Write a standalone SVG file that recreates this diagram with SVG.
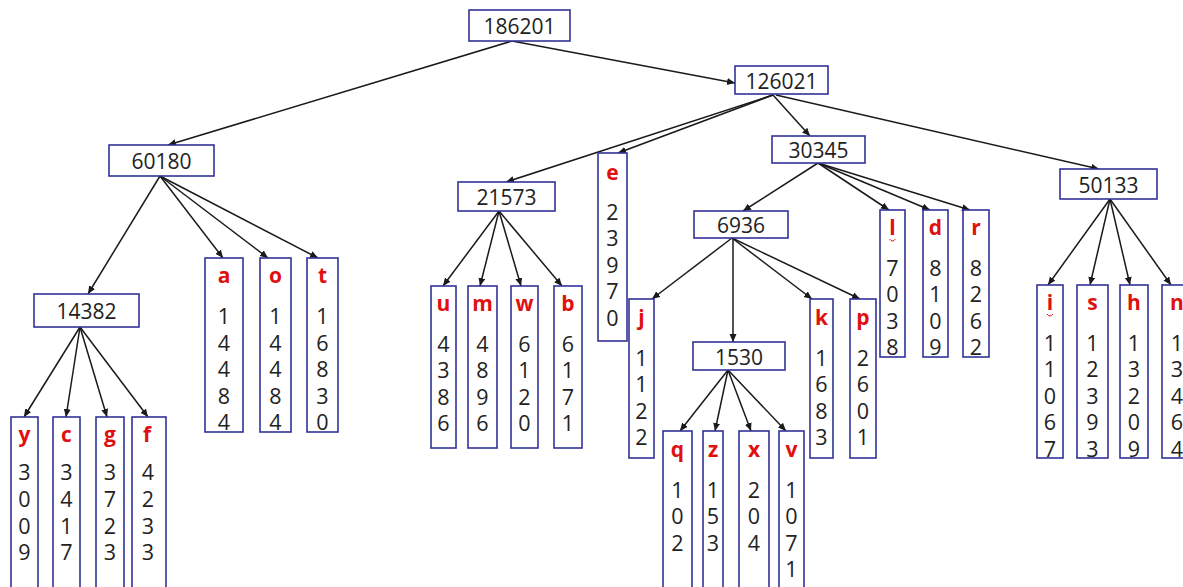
<svg xmlns="http://www.w3.org/2000/svg" width="1183" height="587" viewBox="0 0 1183 587">
<style>
.bx{fill:#fff;stroke:#32329a;stroke-width:1.6}
.nt{font-family:"Open Sans","Liberation Sans",sans-serif;font-size:21px;fill:#222;text-anchor:middle}
.lt{font-family:"Open Sans","Liberation Sans",sans-serif;font-size:21px;font-weight:bold;fill:#e01010;text-anchor:middle}
.dg{font-family:"Open Sans","Liberation Sans",sans-serif;font-size:21.5px;fill:#222;text-anchor:middle}
.cn{stroke:#1a1a1a;stroke-width:1.5;fill:none;marker-end:url(#ah)}
.sq{stroke:#e01010;stroke-width:1;fill:none}
</style>
<defs>
<marker id="ah" markerUnits="userSpaceOnUse" markerWidth="9" markerHeight="8" refX="8" refY="3.5" orient="auto">
<path d="M0,0 L8,3.5 L0,7 z" fill="#1a1a1a"/>
</marker>
</defs>
<rect width="1183" height="587" fill="#fff"/>
<g id="connectors">
<line class="cn" x1="512" y1="41" x2="168" y2="145"/>
<line class="cn" x1="512" y1="41" x2="735" y2="83"/>
<line class="cn" x1="773" y1="95" x2="506" y2="182"/>
<line class="cn" x1="773" y1="95" x2="618" y2="153"/>
<line class="cn" x1="773" y1="95" x2="810" y2="136"/>
<line class="cn" x1="776" y1="95" x2="1099" y2="169"/>
<line class="cn" x1="160" y1="176" x2="88" y2="294"/>
<line class="cn" x1="160" y1="176" x2="223" y2="258"/>
<line class="cn" x1="160" y1="176" x2="268" y2="258"/>
<line class="cn" x1="160" y1="176" x2="318" y2="258"/>
<line class="cn" x1="80" y1="327" x2="24" y2="417"/>
<line class="cn" x1="80" y1="327" x2="66" y2="417"/>
<line class="cn" x1="80" y1="327" x2="107" y2="417"/>
<line class="cn" x1="80" y1="327" x2="148" y2="417"/>
<line class="cn" x1="499" y1="211" x2="443" y2="286"/>
<line class="cn" x1="499" y1="211" x2="480" y2="286"/>
<line class="cn" x1="499" y1="211" x2="521" y2="286"/>
<line class="cn" x1="499" y1="211" x2="562" y2="286"/>
<line class="cn" x1="818" y1="163" x2="743" y2="211"/>
<line class="cn" x1="818" y1="163" x2="889" y2="210"/>
<line class="cn" x1="818" y1="163" x2="930" y2="210"/>
<line class="cn" x1="818" y1="163" x2="970" y2="210"/>
<line class="cn" x1="732" y1="238" x2="652" y2="299"/>
<line class="cn" x1="733" y1="238" x2="733" y2="342"/>
<line class="cn" x1="732" y1="238" x2="812" y2="299"/>
<line class="cn" x1="732" y1="238" x2="860" y2="299"/>
<line class="cn" x1="728" y1="370" x2="680" y2="431"/>
<line class="cn" x1="728" y1="370" x2="715" y2="431"/>
<line class="cn" x1="728" y1="370" x2="751" y2="431"/>
<line class="cn" x1="728" y1="370" x2="786" y2="431"/>
<line class="cn" x1="1110" y1="199" x2="1048" y2="285"/>
<line class="cn" x1="1110" y1="199" x2="1090" y2="285"/>
<line class="cn" x1="1110" y1="199" x2="1130" y2="285"/>
<line class="cn" x1="1110" y1="199" x2="1171" y2="285"/>
</g>
<g id="n186201"><rect class="bx" x="469" y="10" width="101" height="31"/><text class="nt" x="519.5" y="34">186201</text></g>
<g id="n126021"><rect class="bx" x="735" y="66" width="93" height="28"/><text class="nt" x="781.5" y="88.5">126021</text></g>
<g id="n60180"><rect class="bx" x="109" y="145" width="105" height="31"/><text class="nt" x="161.5" y="169">60180</text></g>
<g id="n30345"><rect class="bx" x="772" y="136" width="93" height="27"/><text class="nt" x="818.5" y="158">30345</text></g>
<g id="n21573"><rect class="bx" x="458" y="182" width="97" height="29"/><text class="nt" x="506.5" y="205">21573</text></g>
<g id="n50133"><rect class="bx" x="1060" y="169" width="97" height="30"/><text class="nt" x="1108.5" y="192.5">50133</text></g>
<g id="n6936"><rect class="bx" x="694" y="211" width="94" height="27"/><text class="nt" x="741" y="233">6936</text></g>
<g id="n14382"><rect class="bx" x="34" y="294" width="105" height="33"/><text class="nt" x="86.5" y="319">14382</text></g>
<g id="n1530"><rect class="bx" x="693" y="342" width="92" height="28"/><text class="nt" x="739" y="365">1530</text></g>
<g id="leaf-y"><rect class="bx" x="11" y="417" width="27" height="180"/><text class="lt" x="24.5" y="442">y</text><text class="dg"><tspan x="24.5" y="480">3</tspan><tspan x="24.5" y="507">0</tspan><tspan x="24.5" y="533.5">0</tspan><tspan x="24.5" y="560">9</tspan></text></g>
<g id="leaf-c"><rect class="bx" x="53" y="417" width="27" height="180"/><text class="lt" x="66.5" y="442">c</text><text class="dg"><tspan x="66.5" y="480">3</tspan><tspan x="66.5" y="507">4</tspan><tspan x="66.5" y="533.5">1</tspan><tspan x="66.5" y="560">7</tspan></text></g>
<g id="leaf-g"><rect class="bx" x="96" y="417" width="28" height="180"/><text class="lt" x="110" y="442">g</text><text class="dg"><tspan x="110" y="480">3</tspan><tspan x="110" y="507">7</tspan><tspan x="110" y="533.5">2</tspan><tspan x="110" y="560">3</tspan></text></g>
<g id="leaf-f"><rect class="bx" x="132" y="417" width="34" height="180"/><text class="lt" x="147" y="442">f</text><text class="dg"><tspan x="148" y="480">4</tspan><tspan x="148" y="507">2</tspan><tspan x="148" y="533.5">3</tspan><tspan x="148" y="560">3</tspan></text></g>
<g id="leaf-a"><rect class="bx" x="205" y="258" width="38" height="174"/><text class="lt" x="224" y="283">a</text><text class="dg"><tspan x="224" y="324">1</tspan><tspan x="224" y="350.5">4</tspan><tspan x="224" y="377">4</tspan><tspan x="224" y="403.5">8</tspan><tspan x="224" y="430">4</tspan></text></g>
<g id="leaf-o"><rect class="bx" x="260" y="258" width="31" height="174"/><text class="lt" x="275.5" y="283">o</text><text class="dg"><tspan x="275.5" y="324">1</tspan><tspan x="275.5" y="350.5">4</tspan><tspan x="275.5" y="377">4</tspan><tspan x="275.5" y="403.5">8</tspan><tspan x="275.5" y="430">4</tspan></text></g>
<g id="leaf-t"><rect class="bx" x="307" y="258" width="31" height="174"/><text class="lt" x="322.5" y="283">t</text><text class="dg"><tspan x="322.5" y="324">1</tspan><tspan x="322.5" y="350.5">6</tspan><tspan x="322.5" y="377">8</tspan><tspan x="322.5" y="403.5">3</tspan><tspan x="322.5" y="430">0</tspan></text></g>
<g id="leaf-u"><rect class="bx" x="431" y="286" width="25" height="162"/><text class="lt" x="443.5" y="311">u</text><text class="dg"><tspan x="443.5" y="351.5">4</tspan><tspan x="443.5" y="378">3</tspan><tspan x="443.5" y="404.5">8</tspan><tspan x="443.5" y="431">6</tspan></text></g>
<g id="leaf-m"><rect class="bx" x="468" y="286" width="29" height="162"/><text class="lt" x="482.5" y="311">m</text><text class="dg"><tspan x="482.5" y="351.5">4</tspan><tspan x="482.5" y="378">8</tspan><tspan x="482.5" y="404.5">9</tspan><tspan x="482.5" y="431">6</tspan></text></g>
<g id="leaf-w"><rect class="bx" x="511" y="286" width="27" height="162"/><text class="lt" x="524.5" y="311">w</text><text class="dg"><tspan x="524.5" y="351.5">6</tspan><tspan x="524.5" y="378">1</tspan><tspan x="524.5" y="404.5">2</tspan><tspan x="524.5" y="431">0</tspan></text></g>
<g id="leaf-b"><rect class="bx" x="554" y="286" width="28" height="162"/><text class="lt" x="568" y="311">b</text><text class="dg"><tspan x="568" y="351.5">6</tspan><tspan x="568" y="378">1</tspan><tspan x="568" y="404.5">7</tspan><tspan x="568" y="431">1</tspan></text></g>
<g id="leaf-e"><rect class="bx" x="598" y="153" width="29" height="188"/><text class="lt" x="612.5" y="180">e</text><text class="dg"><tspan x="612.5" y="219.5">2</tspan><tspan x="612.5" y="246">3</tspan><tspan x="612.5" y="272.5">9</tspan><tspan x="612.5" y="299">7</tspan><tspan x="612.5" y="325.5">0</tspan></text></g>
<g id="leaf-j"><rect class="bx" x="629" y="299" width="25" height="159"/><text class="lt" x="641.5" y="325">j</text><text class="dg"><tspan x="641.5" y="365.5">1</tspan><tspan x="641.5" y="392">1</tspan><tspan x="641.5" y="418.5">2</tspan><tspan x="641.5" y="445">2</tspan></text></g>
<g id="leaf-k"><rect class="bx" x="810" y="299" width="23" height="159"/><text class="lt" x="821.5" y="325">k</text><text class="dg"><tspan x="821.5" y="365.5">1</tspan><tspan x="821.5" y="392">6</tspan><tspan x="821.5" y="418.5">8</tspan><tspan x="821.5" y="445">3</tspan></text></g>
<g id="leaf-p"><rect class="bx" x="850" y="299" width="26" height="159"/><text class="lt" x="863" y="325">p</text><text class="dg"><tspan x="863" y="365.5">2</tspan><tspan x="863" y="392">6</tspan><tspan x="863" y="418.5">0</tspan><tspan x="863" y="445">1</tspan></text></g>
<g id="leaf-q"><rect class="bx" x="663" y="431" width="29" height="165"/><text class="lt" x="677.5" y="457">q</text><text class="dg"><tspan x="677.5" y="497.5">1</tspan><tspan x="677.5" y="524">0</tspan><tspan x="677.5" y="550.5">2</tspan></text></g>
<g id="leaf-z"><rect class="bx" x="703" y="431" width="20" height="165"/><text class="lt" x="713" y="457">z</text><text class="dg"><tspan x="713" y="497.5">1</tspan><tspan x="713" y="524">5</tspan><tspan x="713" y="550.5">3</tspan></text></g>
<g id="leaf-x"><rect class="bx" x="739" y="431" width="30" height="165"/><text class="lt" x="754" y="457">x</text><text class="dg"><tspan x="754" y="497.5">2</tspan><tspan x="754" y="524">0</tspan><tspan x="754" y="550.5">4</tspan></text></g>
<g id="leaf-v"><rect class="bx" x="779" y="431" width="25" height="165"/><text class="lt" x="791.5" y="457">v</text><text class="dg"><tspan x="791.5" y="497.5">1</tspan><tspan x="791.5" y="524">0</tspan><tspan x="791.5" y="550.5">7</tspan><tspan x="791.5" y="577">1</tspan></text></g>
<g id="leaf-l"><rect class="bx" x="880" y="210" width="25" height="147"/><text class="lt" x="892.5" y="235">l</text><path class="sq" d="M889.5,239 q3,4 6,0"/><text class="dg"><tspan x="892.5" y="275.5">7</tspan><tspan x="892.5" y="302">0</tspan><tspan x="892.5" y="328.5">3</tspan><tspan x="892.5" y="355">8</tspan></text></g>
<g id="leaf-d"><rect class="bx" x="923" y="210" width="25" height="147"/><text class="lt" x="935.5" y="235">d</text><text class="dg"><tspan x="935.5" y="275.5">8</tspan><tspan x="935.5" y="302">1</tspan><tspan x="935.5" y="328.5">0</tspan><tspan x="935.5" y="355">9</tspan></text></g>
<g id="leaf-r"><rect class="bx" x="963" y="210" width="26" height="147"/><text class="lt" x="976" y="235">r</text><text class="dg"><tspan x="976" y="275.5">8</tspan><tspan x="976" y="302">2</tspan><tspan x="976" y="328.5">6</tspan><tspan x="976" y="355">2</tspan></text></g>
<g id="leaf-i"><rect class="bx" x="1037" y="285" width="26" height="173"/><text class="lt" x="1050" y="310">i</text><path class="sq" d="M1047,314 q3,4 6,0"/><text class="dg"><tspan x="1050" y="350.5">1</tspan><tspan x="1050" y="377">1</tspan><tspan x="1050" y="403.5">0</tspan><tspan x="1050" y="430">6</tspan><tspan x="1050" y="456.5">7</tspan></text></g>
<g id="leaf-s"><rect class="bx" x="1077" y="285" width="31" height="173"/><text class="lt" x="1092.5" y="310">s</text><text class="dg"><tspan x="1092.5" y="350.5">1</tspan><tspan x="1092.5" y="377">2</tspan><tspan x="1092.5" y="403.5">3</tspan><tspan x="1092.5" y="430">9</tspan><tspan x="1092.5" y="456.5">3</tspan></text></g>
<g id="leaf-h"><rect class="bx" x="1120" y="285" width="28" height="173"/><text class="lt" x="1134" y="310">h</text><text class="dg"><tspan x="1134" y="350.5">1</tspan><tspan x="1134" y="377">3</tspan><tspan x="1134" y="403.5">2</tspan><tspan x="1134" y="430">0</tspan><tspan x="1134" y="456.5">9</tspan></text></g>
<g id="leaf-n"><rect class="bx" x="1162" y="285" width="30" height="173"/><text class="lt" x="1177" y="310">n</text><text class="dg"><tspan x="1177" y="350.5">1</tspan><tspan x="1177" y="377">3</tspan><tspan x="1177" y="403.5">4</tspan><tspan x="1177" y="430">6</tspan><tspan x="1177" y="456.5">4</tspan></text></g>
</svg>
